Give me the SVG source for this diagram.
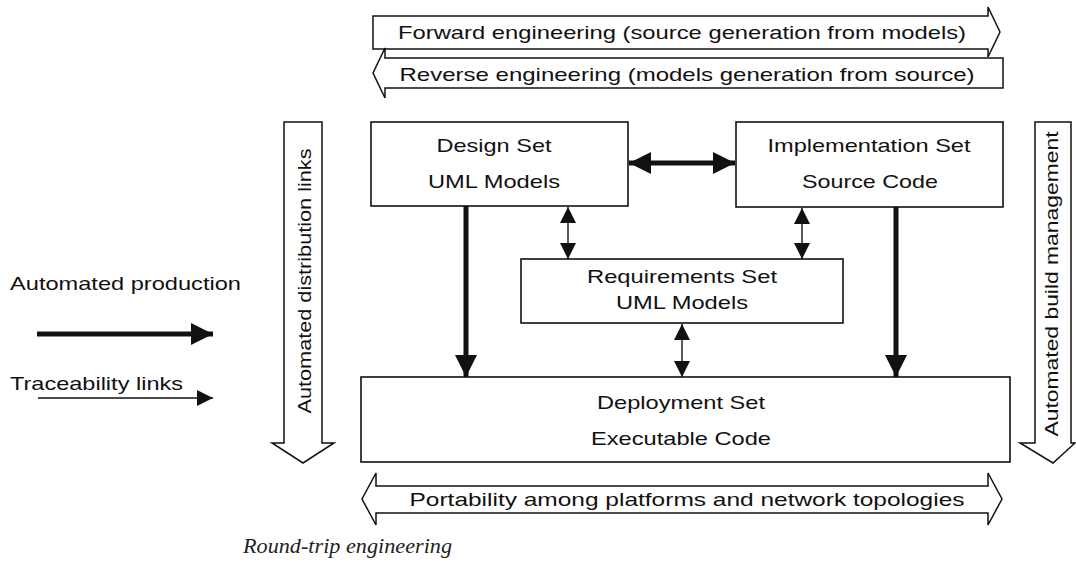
<svg xmlns="http://www.w3.org/2000/svg" width="1076" height="563" viewBox="0 0 1076 563">
<style>
.t{font-family:"Liberation Sans",Arial,sans-serif;font-size:19px;fill:#111;}
.c{text-anchor:middle;}
.box{fill:#fff;stroke:#111;stroke-width:1.6;}
.blk{fill:#fff;stroke:#111;stroke-width:1.5;stroke-linejoin:miter;}
.thick{stroke:#111;stroke-width:5;fill:none;}
.thin{stroke:#111;stroke-width:1.4;fill:none;}
.cap{font-family:"Liberation Serif","Times New Roman",serif;font-style:italic;font-size:22px;fill:#222;}
</style>
<defs>
<marker id="hb" viewBox="0 0 22 22" refX="22" refY="11" markerWidth="22" markerHeight="22" markerUnits="userSpaceOnUse" orient="auto-start-reverse"><path d="M0,0 L22,11 L0,22 z" fill="#111"/></marker>
<marker id="ht" viewBox="0 0 16 16" refX="16" refY="8" markerWidth="16" markerHeight="16" markerUnits="userSpaceOnUse" orient="auto-start-reverse"><path d="M0,0 L16,8 L0,16 z" fill="#111"/></marker>
</defs>

<g id="forward">
<polygon class="blk" points="373,16 988,16 988,7 1000,32 988,57 988,49 373,49"/>
<text class="t c" x="682" y="39" textLength="568" lengthAdjust="spacingAndGlyphs">Forward engineering (source generation from models)</text>
</g>
<g id="reverse">
<polygon class="blk" points="1003,58 385,58 385,48 373,73 385,98 385,88 1003,88"/>
<text class="t c" x="687" y="81" textLength="575" lengthAdjust="spacingAndGlyphs">Reverse engineering (models generation from source)</text>
</g>

<g id="distribution">
<polygon class="blk" points="284,122 322,122 322,443 334,443 303,463 272,443 284,443"/>
<text class="t c" transform="translate(311,281) rotate(-90)" x="0" y="0" textLength="265" lengthAdjust="spacingAndGlyphs">Automated distribution links</text>
</g>
<g id="build">
<polygon class="blk" points="1035,122 1071,122 1071,443 1075,443 1053,463 1020,443 1035,443"/>
<text class="t c" transform="translate(1058,284) rotate(-90)" x="0" y="0" textLength="305" lengthAdjust="spacingAndGlyphs">Automated build management</text>
</g>

<g id="legend">
<text class="t" x="10" y="290" textLength="231" lengthAdjust="spacingAndGlyphs">Automated production</text>
<line class="thick" x1="37" y1="334" x2="213" y2="334" marker-end="url(#hb)"/>
<text class="t" x="10" y="390" textLength="173" lengthAdjust="spacingAndGlyphs">Traceability links</text>
<line class="thin" x1="38" y1="398" x2="213" y2="398" marker-end="url(#ht)"/>
</g>

<g id="design">
<rect class="box" x="371" y="122" width="257" height="84"/>
<text class="t c" x="494" y="152" textLength="115" lengthAdjust="spacingAndGlyphs">Design Set</text>
<text class="t c" x="494" y="188" textLength="132" lengthAdjust="spacingAndGlyphs">UML Models</text>
</g>
<g id="implementation">
<rect class="box" x="736" y="122" width="267" height="85"/>
<text class="t c" x="869" y="152" textLength="203" lengthAdjust="spacingAndGlyphs">Implementation Set</text>
<text class="t c" x="870" y="188" textLength="136" lengthAdjust="spacingAndGlyphs">Source Code</text>
</g>
<g id="requirements">
<rect class="box" x="521" y="259" width="322" height="64"/>
<text class="t c" x="682" y="283" textLength="190" lengthAdjust="spacingAndGlyphs">Requirements Set</text>
<text class="t c" x="682" y="309" textLength="132" lengthAdjust="spacingAndGlyphs">UML Models</text>
</g>
<g id="deployment">
<rect class="box" x="361" y="377" width="649" height="85"/>
<text class="t c" x="681" y="409" textLength="168" lengthAdjust="spacingAndGlyphs">Deployment Set</text>
<text class="t c" x="681" y="445" textLength="180" lengthAdjust="spacingAndGlyphs">Executable Code</text>
</g>

<g id="portability">
<polygon class="blk" points="376,486 988,486 988,473 1002,499 988,525 988,513 376,513 376,525 362,499 376,473"/>
<text class="t c" x="687" y="506" textLength="555" lengthAdjust="spacingAndGlyphs">Portability among platforms and network topologies</text>
</g>

<g id="connectors">
<line class="thick" x1="629" y1="163" x2="735" y2="163" marker-start="url(#hb)" marker-end="url(#hb)"/>
<line class="thick" x1="466" y1="206" x2="466" y2="377" marker-end="url(#hb)"/>
<line class="thick" x1="896" y1="207" x2="896" y2="377" marker-end="url(#hb)"/>
<line class="thin" x1="568" y1="207" x2="568" y2="259" marker-start="url(#ht)" marker-end="url(#ht)"/>
<line class="thin" x1="802" y1="208" x2="802" y2="259" marker-start="url(#ht)" marker-end="url(#ht)"/>
<line class="thin" x1="682" y1="324" x2="682" y2="377" marker-start="url(#ht)" marker-end="url(#ht)"/>
</g>

<text class="cap" x="243" y="553" textLength="209" lengthAdjust="spacingAndGlyphs">Round-trip engineering</text>
</svg>
